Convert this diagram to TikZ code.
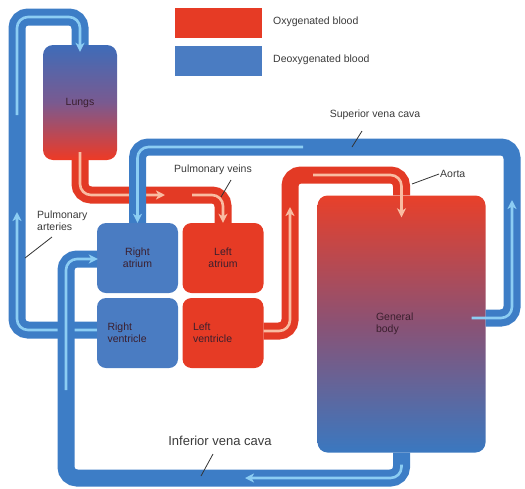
\documentclass[tikz,border=0pt]{standalone}
\usepackage{fontspec}
\setmainfont{Liberation Sans}
\usetikzlibrary{arrows.meta}

\definecolor{fgText}{HTML}{3A3A3A}
\definecolor{boxText}{HTML}{3B1F2E}
\definecolor{oxyFill}{HTML}{E63B25}
\definecolor{deoxyFill}{HTML}{4A7CC2}
\definecolor{oxyLine}{HTML}{E33A25}
\definecolor{oxyFlow}{HTML}{F9BCA2}
\definecolor{deoxyLine}{HTML}{3D7DC6}
\definecolor{deoxyFlow}{HTML}{8CCDF3}
\definecolor{lungTop}{HTML}{3F6CB8}
\definecolor{lungMid}{HTML}{7A5A90}
\definecolor{lungLow}{HTML}{EE3A25}
\definecolor{bodyTop}{HTML}{E8402A}
\definecolor{bodyMid}{HTML}{8A5275}
\definecolor{bodyLow}{HTML}{3A78C0}

\begin{document}
\begin{tikzpicture}[
    x=1pt, y=-1pt,
    font=\fontsize{10.5}{12}\selectfont,
    chamber/.style={rectangle, rounded corners=9pt, text=boxText,
                    minimum width=81pt, minimum height=70pt, align=center},
    oxy/.style={chamber, fill=oxyFill},
    deoxy/.style={chamber, fill=deoxyFill},
    ventricle/.style={text width=60pt, align=left},
    organ/.style={rectangle, rounded corners=10pt, text=boxText, align=left},
    swatch/.style={rectangle, minimum width=87pt, minimum height=30pt},
    tube/.style={line width=17pt, rounded corners=11pt},
    redtube/.style={tube, draw=oxyLine},
    bluetube/.style={tube, draw=deoxyLine},
    flow/.style={line width=2.6pt, rounded corners=11pt,
                 -{Stealth[length=9pt, width=9pt, inset=2.5pt]}},
    redflow/.style={flow, draw=oxyFlow},
    blueflow/.style={flow, draw=deoxyFlow},
    note/.style={text=fgText, inner sep=1pt},
    leader/.style={draw=black!80, line width=0.8pt},
  ]
  \useasboundingbox (0,0) rectangle (525,488);

  % Tube lanes (pixel grid, y downwards)
  \def\xPA{17}\def\yPA{330}\def\yTop{17}
  \def\yPV{195}
  \def\ySVC{147}\def\xSVC{512}\def\ySVCout{318}
  \def\xIVC{66}\def\yIVC{478}\def\yIVCin{259}
  \def\xAo{290}\def\yAo{175}\def\yAoLow{331}

  % LEGEND
  \node[swatch, fill=oxyFill] (legoxy) at (218.5, 23) {};
  \node[note, anchor=west] at (272, 22) {Oxygenated blood};
  \node[swatch, fill=deoxyFill] (legdeoxy) at (218.5, 61) {};
  \node[note, anchor=west] at (272, 60) {Deoxygenated blood};

  % ORGANS AND CHAMBERS
  \node[organ, minimum width=74pt, minimum height=115pt,
        top color=lungTop, bottom color=lungLow, middle color=lungMid] (lungs) at (80, 102.5) {Lungs};
  \node[organ, minimum width=168pt, minimum height=257pt, text width=51pt,
        top color=bodyTop, bottom color=bodyLow, middle color=bodyMid] (body) at (401.5, 324) {General\\ body};
  \node[deoxy] (ra) at (137.5, 258) {Right\\ atrium};
  \node[deoxy, ventricle] (rv) at (137.5, 333) {Right\\ ventricle};
  \node[oxy] (la) at (223, 258) {Left\\ atrium};
  \node[oxy, ventricle] (lv) at (223, 333) {Left\\ ventricle};

  % PULMONARY ARTERIES
  \coordinate (paLow) at (\xPA, \yPA);
  \coordinate (paTop) at (\xPA, \yTop);
  \draw[bluetube] (rv.west |- paLow) -- (paLow) -- (paTop) -- (paTop -| lungs) -- (lungs.north);
  \draw[blueflow] (rv.west |- paLow) -- (paLow) -- (\xPA, 212);
  \draw[blueflow] (\xPA, 115) -- (paTop) -- (paTop -| lungs) -- ([yshift=-7pt]lungs.north);

  % PULMONARY VEINS
  \coordinate (pvBend) at (80, \yPV);
  \draw[redtube] (lungs.south) -- (pvBend) -- (pvBend -| la) -- (la.north);
  \draw[redflow] ([yshift=8pt]lungs.south) -- (pvBend) -- (165, \yPV);
  \draw[redflow] (192, \yPV) -- (pvBend -| la) -- (la.north);

  % SUPERIOR VENA CAVA
  \coordinate (svcOut) at (\xSVC, \ySVCout);
  \coordinate (svcTop) at (\xSVC, \ySVC);
  \draw[bluetube] (body.east |- svcOut) -- (svcOut) -- (svcTop) -- (svcTop -| ra) -- (ra.north);
  \draw[blueflow] ([xshift=-14pt]body.east |- svcOut) -- (svcOut) -- (\xSVC, 200);
  \draw[blueflow] (303, \ySVC) -- (svcTop -| ra) -- (ra.north);

  % INFERIOR VENA CAVA
  \coordinate (ivcLow) at (\xIVC, \yIVC);
  \coordinate (ivcUp) at (\xIVC, \yIVCin);
  \draw[bluetube] (body.south) -- (body.south |- ivcLow) -- (ivcLow) -- (ivcUp) -- (ra.west |- ivcUp);
  \draw[blueflow] ([yshift=-12pt]body.south) -- (body.south |- ivcLow) -- (245, \yIVC);
  \draw[blueflow] (\xIVC, 390) -- (ivcUp) -- ([xshift=1pt]ra.west |- ivcUp);

  % AORTA
  \coordinate (aoLow) at (\xAo, \yAoLow);
  \coordinate (aoTop) at (\xAo, \yAo);
  \draw[redtube] (lv.east |- aoLow) -- (aoLow) -- (aoTop) -- (aoTop -| body) -- (body.north);
  \draw[redflow] (lv.east |- aoLow) -- (aoLow) -- (\xAo, 207);
  \draw[redflow] (313, \yAo) -- (aoTop -| body) -- ([yshift=-22pt]body.north);

  % LABELS
  \node[note] (svcLabel) at (375, 115) {Superior vena cava};
  \coordinate (svcTail) at (352, 147);
  \coordinate (svcHead) at (362, 131);
  \draw[leader] (svcTail) -- (svcHead);

  \node[note, anchor=west] (aoLabel) at (439, 174) {Aorta};
  \coordinate (aoTail) at (412, 184);
  \draw[leader] (aoTail) -- (aoLabel.west);

  \node[note] (pvLabel) at (213, 170) {Pulmonary veins};
  \coordinate (pvTail) at (221, 197);
  \coordinate (pvHead) at (231, 180);
  \draw[leader] (pvTail) -- (pvHead);

  \node[note, anchor=west, align=left] (paLabel) at (36, 221) {Pulmonary\\ arteries};
  \coordinate (paTail) at (25, 258);
  \coordinate (paHead) at (52, 237);
  \draw[leader] (paTail) -- (paHead);

  \node[note, font=\fontsize{13}{15}\selectfont] (ivcLabel) at (220, 441) {Inferior vena cava};
  \coordinate (ivcTail) at (201, 476);
  \coordinate (ivcHead) at (213, 454);
  \draw[leader] (ivcTail) -- (ivcHead);

\end{tikzpicture}
\end{document}
